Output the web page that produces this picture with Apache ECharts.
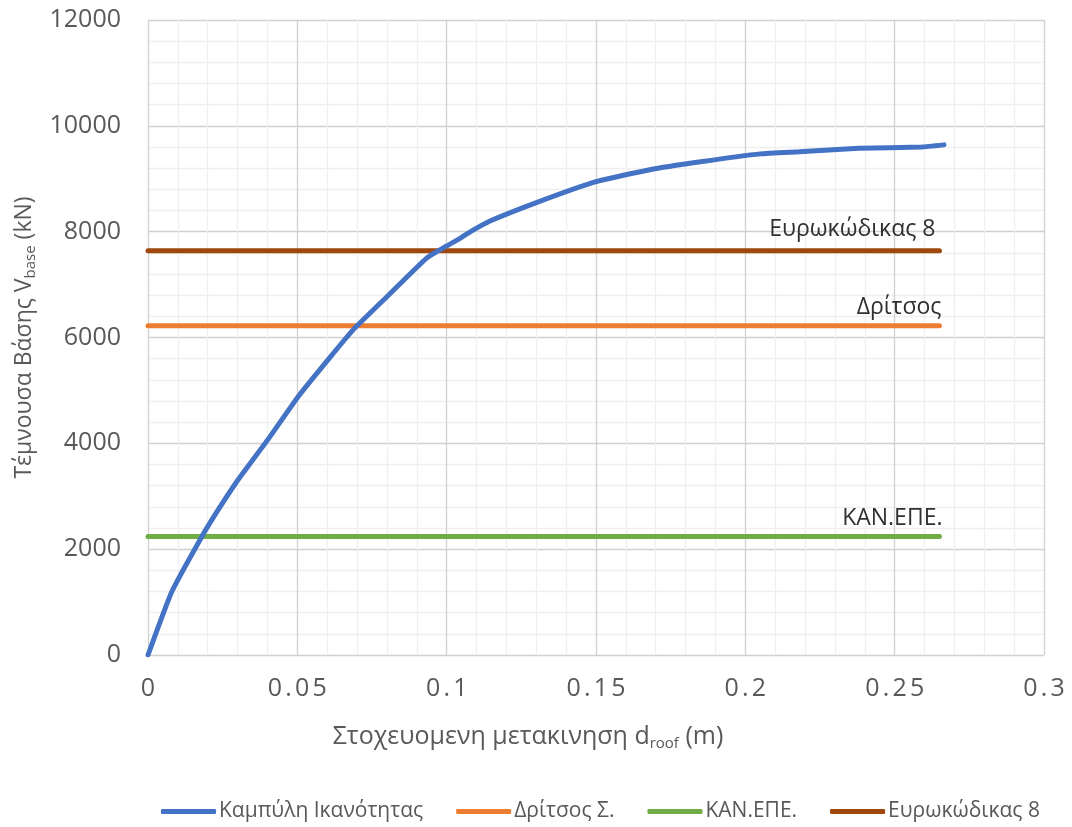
<!DOCTYPE html>
<html>
<head>
<meta charset="utf-8">
<script src="https://cdn.jsdelivr.net/npm/echarts@6/dist/echarts.min.js"></script>
<style>html,body{margin:0;padding:0;background:#fff}#c{width:1072px;height:827px}</style>
</head>
<body>
<div id="c"></div>
<script>
// Capacity curve (displacement m, base shear kN)
var curveX = [0, 0.008, 0.018, 0.023, 0.0297, 0.04, 0.0505, 0.061, 0.0686, 0.08, 0.0933, 0.1, 0.1045, 0.108, 0.1145, 0.1296, 0.1497, 0.168, 0.185, 0.205, 0.218, 0.238, 0.259, 0.2665];
var curveY = [0, 1200, 2236, 2700, 3275, 4060, 4900, 5630, 6140, 6770, 7500, 7730, 7875, 8000, 8200, 8540, 8940, 9170, 9320, 9470, 9510, 9575, 9600, 9640];
// Horizontal code levels
var levelNames = ['Δρίτσος Σ.', 'ΚΑΝ.ΕΠΕ.', 'Ευρωκώδικας 8'];
var levelLabels = ['Δρίτσος', 'ΚΑΝ.ΕΠΕ.', 'Ευρωκώδικας 8'];
var levelValues = [6220, 2240, 7640];
var levelX = [0, 0.265];
var curveName = 'Καμπύλη Ικανότητας';
var xTicks = [0, 0.05, 0.1, 0.15, 0.2, 0.25, 0.3];
var yTicks = [0, 2000, 4000, 6000, 8000, 10000, 12000];

var colors = ['#4472C4', '#ED7D31', '#70AD47', '#9E480E'];
var FONT = '"Open Sans", "Noto Sans", sans-serif';
var TICK = '#595959';

var series = [{
  name: curveName,
  type: 'line',
  data: curveX.map(function (x, i) { return [x, curveY[i]]; }),
  symbol: 'none',
  smooth: 0.15,
  lineStyle: { width: 5, color: colors[0], cap: 'round' },
  itemStyle: { color: colors[0] },
  z: 3
}];
var labelOffsets = [[2, 0], [3, 0], [-4, -3]];
levelNames.forEach(function (n, k) {
  series.push({
    name: n,
    type: 'line',
    symbol: 'circle', symbolSize: 0.01, showSymbol: true,
    data: levelX.map(function (x, i) {
      var d = { value: [x, levelValues[k]] };
      if (i === levelX.length - 1) {
        d.label = {
          show: true, position: 'top', align: 'right', distance: 7,
          offset: labelOffsets[k],
          formatter: levelLabels[k], fontSize: 23, color: '#303030', fontFamily: FONT
        };
      }
      return d;
    }),
    lineStyle: { width: 5, color: colors[k + 1], cap: 'round' },
    itemStyle: { color: colors[k + 1] },
    emphasis: { disabled: true },
    z: 2
  });
});

function spaced(s) {
  return String(s).split('').map(function (c) { return '{c|' + c + '}'; }).join('');
}

var chart = echarts.init(document.getElementById('c'));
chart.setOption({
  animation: false,
  textStyle: { fontFamily: FONT },
  grid: { left: 148, right: 28, top: 20, bottom: 172, containLabel: false },
  legend: {
    top: 796, left: 156,
    data: [curveName].concat(levelNames),
    icon: 'roundRect', itemWidth: 55, itemHeight: 5, itemGap: 33,
    textStyle: { fontSize: 21, color: TICK, fontFamily: FONT, padding: [0, 0, 0, -2] }
  },
  xAxis: {
    type: 'value', min: 0, max: 0.3, interval: 0.05,
    axisLine: { show: false }, axisTick: { show: false },
    axisLabel: { margin: 21,
      formatter: function (v) { var i = xTicks.indexOf(Math.round(v * 100) / 100); return i >= 0 ? spaced(xTicks[i]) : ''; },
      rich: { c: { fontSize: 25, color: TICK, fontFamily: FONT, padding: [0, 1.6, 0, 1.6] } } },
    splitLine: { show: true, lineStyle: { color: '#d0d0d0', width: 1.3 } },
    minorTick: { show: false, splitNumber: 5 },
    minorSplitLine: { show: true, lineStyle: { color: '#efefef', width: 1.3 } },
    name: '{a|Στοχευομενη μετακινηση d}{s|roof}{a| (m)}',
    nameLocation: 'middle', nameGap: 66,
    nameTextStyle: { padding: [0, 136, 0, 0], rich: {
      a: { fontSize: 25, color: TICK, fontFamily: FONT, lineHeight: 32 },
      s: { fontSize: 15, color: TICK, fontFamily: FONT, lineHeight: 32, padding: [13, 0, 0, 0] }
    } }
  },
  yAxis: {
    type: 'value', min: 0, max: 12000, interval: 2000,
    axisLine: { show: false }, axisTick: { show: false },
    axisLabel: { fontSize: 25, color: TICK, margin: 27,
      formatter: function (v) { return yTicks.indexOf(v) >= 0 ? String(v) : ''; } },
    splitLine: { show: true, lineStyle: { color: '#d0d0d0', width: 1.3 } },
    minorTick: { show: false, splitNumber: 5 },
    minorSplitLine: { show: true, lineStyle: { color: '#efefef', width: 1.3 } },
    name: '{a|Τέμνουσα Βάσης V}{s|base}{a| (kN)}',
    nameLocation: 'middle', nameGap: 104,
    nameTextStyle: { rich: {
      a: { fontSize: 23, color: TICK, fontFamily: FONT, lineHeight: 32 },
      s: { fontSize: 15, color: TICK, fontFamily: FONT, lineHeight: 32, padding: [13, 0, 0, 0] }
    } }
  },
  series: series
});
</script>
</body>
</html>
